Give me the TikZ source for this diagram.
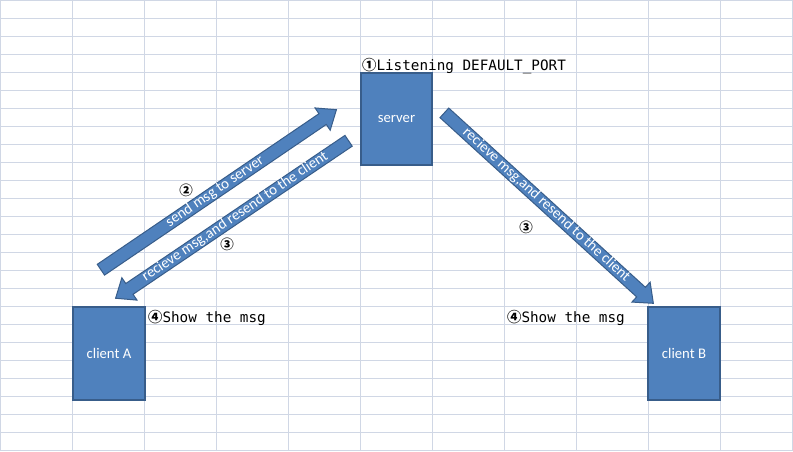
\documentclass[tikz,border=0pt]{standalone}
\usepackage{fontspec}
\setmainfont{Carlito}
\newfontfamily\monofont{DejaVu Sans Mono}
\newfontfamily\cjkfont{Noto Sans CJK JP}
\usetikzlibrary{shapes.arrows,calc}
\definecolor{cellgrid}{HTML}{D0D7E5}
\definecolor{shapeblue}{HTML}{4F81BD}
\definecolor{shapeedge}{HTML}{385D8A}
\begin{document}
\begin{tikzpicture}[x=1pt, y=1pt,
  box/.style={draw=shapeedge, line width=1.5pt, fill=shapeblue, text=white,
    font=\fontsize{14.7}{17}\selectfont},
  blockarrow/.style={single arrow, draw=shapeedge, line width=1pt, fill=shapeblue,
    text=white, inner sep=0pt, text height=9.3pt, text depth=2.7pt,
    single arrow head extend=7pt, single arrow tip angle=78, anchor=tail,
    font=\fontsize{15}{17}\selectfont},
  note/.style={inner sep=0pt, anchor=base west, font=\monofont\fontsize{14.3}{17}\selectfont},
  numcircle/.style={inner sep=0pt, font=\cjkfont\bfseries\fontsize{13.5}{15}\selectfont}]
\fill[white] (0,0) rectangle (793,451);
\useasboundingbox (0,0) rectangle (793,451);
\foreach \gx in {0,72,...,792}
  \draw[cellgrid] (\gx,0) -- (\gx,451);
\foreach \gk in {0,...,25}
  \draw[cellgrid] (0,{451-18*\gk}) -- (793,{451-18*\gk});
\node (server) [box, minimum width=71pt, minimum height=92pt] at (396.5,332) {server};
\node (clientA) [box, minimum width=72pt, minimum height=93pt] at (109,97.5) {client A};
\node (clientB) [box, minimum width=72pt, minimum height=93pt] at (684,97.5) {client B};
\coordinate (sendTail) at (100.5,181);
\coordinate (sendTip) at (336,341);
\coordinate (backTail) at (349,310.5);
\coordinate (backTip) at (116,153);
\coordinate (fwdTail) at (444,338.5);
\coordinate (fwdTip) at (653,148);
\path let \p1 = ($(sendTip)-(sendTail)$), \n1 = {veclen(\x1,\y1)}, \n2 = {atan2(\y1,\x1)} in
  node (sendArrow) [blockarrow, minimum height=\n1, rotate=\n2] at (sendTail) {send msg to server};
\path let \p1 = ($(backTip)-(backTail)$), \n1 = {veclen(\x1,\y1)}, \n2 = {atan2(\y1,\x1)+180} in
  node (backArrow) [blockarrow, shape border rotate=180, minimum height=\n1, rotate=\n2] at (backTail) {recieve msg,and resend to the client};
\path let \p1 = ($(fwdTip)-(fwdTail)$), \n1 = {veclen(\x1,\y1)}, \n2 = {atan2(\y1,\x1)} in
  node (fwdArrow) [blockarrow, minimum height=\n1, rotate=\n2] at (fwdTail) {recieve msg,and resend to the client};
\node (num2) [numcircle] at (186,261) {②};
\node (num3a) [numcircle] at (227,207) {③};
\node (num3b) [numcircle] at (526,224) {③};
\node (listenNote) [note] at (362,381) {{\cjkfont\bfseries ①}Listening DEFAULT\_PORT};
\node (showA) [note] at (148,128.7) {{\cjkfont\bfseries ④}Show the msg};
\node (showB) [note] at (507,128.7) {{\cjkfont\bfseries ④}Show the msg};
\end{tikzpicture}
\end{document}
